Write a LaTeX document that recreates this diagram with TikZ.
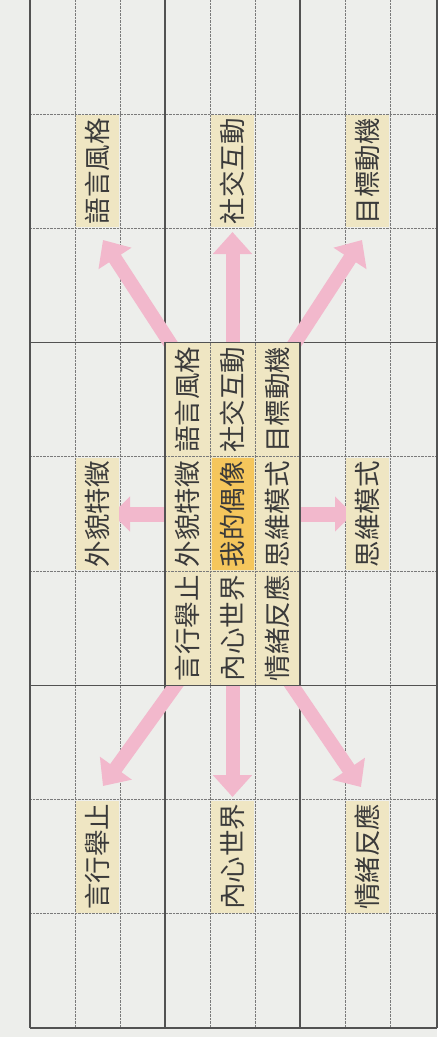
\documentclass[tikz,border=0pt]{standalone}
\usepackage{fontspec}
\newfontfamily\cjk{Noto Sans CJK TC}
\usetikzlibrary{arrows.meta}
\definecolor{paper}{HTML}{EDEEEB}
\definecolor{linedark}{HTML}{525252}
\definecolor{linelight}{HTML}{7A7A7A}
\definecolor{cream}{HTML}{EFE6C3}
\definecolor{gold}{HTML}{F5C65C}
\definecolor{pinkarr}{HTML}{F2B8CC}
\definecolor{ink}{HTML}{3A3A3A}
\pgfdeclarelayer{bg}
\pgfdeclarelayer{grid}
\pgfdeclarelayer{arr}
\pgfdeclarelayer{top}
\pgfsetlayers{bg,grid,arr,main,top}
\begin{document}
\begin{tikzpicture}[x=1pt,y=-1pt,
  boldline/.style={draw=linedark,line width=1.2pt},
  dotline/.style={draw=linelight,line width=0.8pt,dash pattern=on 0.9pt off 0.5pt},
  txt/.style={rotate=90,font=\cjk\fontsize{26.5}{26.5}\selectfont,text=ink,inner sep=0pt,minimum width=112pt,minimum height=43pt},
  outercell/.style={txt,fill=cream},
  innercell/.style={txt},
  hubcell/.style={txt,fill=gold,minimum width=112pt,minimum height=42pt},
  pinkarrow/.style={draw=pinkarr,line width=14pt,-{Triangle[width=38pt,length=22pt]}},
  sidearrow/.style={draw=pinkarr,line width=15pt,-{Triangle[width=34pt,length=18pt]}}]
\useasboundingbox (0,0) rectangle (437,1037);
\begin{pgfonlayer}{bg}
\fill[paper] (0,0) rectangle (437,1037);
\end{pgfonlayer}
\begin{pgfonlayer}{grid}
\foreach \i in {1,2,4,5,7,8} \draw[dotline] (30+45*\i,0) -- (30+45*\i,1028);
\foreach \j in {1,2,4,5,7,8} \draw[dotline] (30,114.222*\j) -- (437,114.222*\j);
\foreach \i in {0,3,6} \draw[boldline] (30+45*\i,0) -- (30+45*\i,1028);
\draw[boldline] (437,0) -- (437,1028);
\foreach \j in {3,6,9} \draw[boldline] (30,114.222*\j) -- (437,114.222*\j);
\end{pgfonlayer}
% centre block background
\fill[cream] (165,342.67) rectangle (300,685.33);
% centre block cells
\node[innercell] (cA) at (187.5,399.78) {語言風格};
\node[innercell] (cB) at (232.5,399.78) {社交互動};
\node[innercell] (cC) at (277.5,399.78) {目標動機};
\node[innercell] (cD) at (187.5,514) {外貌特徵};
\node[hubcell]   (hub) at (232.5,514) {我的偶像};
\node[innercell] (cE) at (277.5,514) {思維模式};
\node[innercell] (cF) at (187.5,628.22) {言行舉止};
\node[innercell] (cG) at (232.5,628.22) {內心世界};
\node[innercell] (cH) at (277.5,628.22) {情緒反應};
% outer cells
\node[outercell] (oA) at (97.5,171.33) {語言風格};
\node[outercell] (oB) at (232.5,171.33) {社交互動};
\node[outercell] (oC) at (367.5,171.33) {目標動機};
\node[outercell] (oD) at (97.5,514) {外貌特徵};
\node[outercell] (oE) at (367.5,514) {思維模式};
\node[outercell] (oF) at (97.5,856.67) {言行舉止};
\node[outercell] (oG) at (232.5,856.67) {內心世界};
\node[outercell] (oH) at (367.5,856.67) {情緒反應};
% arrow ends
\coordinate (sA) at (203.5,394.5); \coordinate (tA) at (103,240);
\coordinate (sB) at (232.5,400);   \coordinate (tB) at (232.5,232);
\coordinate (sC) at (261.5,394.5); \coordinate (tC) at (362,240);
\coordinate (sD) at (200,514);     \coordinate (tD) at (112,514);
\coordinate (sE) at (265,514);     \coordinate (tE) at (353,514);
\coordinate (sF) at (211,636);     \coordinate (tF) at (103,786);
\coordinate (sG) at (232.5,630);   \coordinate (tG) at (232.5,797);
\coordinate (sH) at (259,637);     \coordinate (tH) at (361,787);
\begin{pgfonlayer}{arr}
\draw[pinkarrow] (sA) -- (tA);
\draw[pinkarrow] (sB) -- (tB);
\draw[pinkarrow] (sC) -- (tC);
\draw[sidearrow] (sD) -- (tD);
\draw[sidearrow] (sE) -- (tE);
\draw[pinkarrow] (sF) -- (tF);
\draw[pinkarrow] (sG) -- (tG);
\draw[pinkarrow] (sH) -- (tH);
\end{pgfonlayer}
\begin{pgfonlayer}{top}
\draw[dotline] (210,342.67) -- (210,685.33);
\draw[dotline] (255,342.67) -- (255,685.33);
\draw[dotline] (165,456.89) -- (300,456.89);
\draw[dotline] (165,571.11) -- (300,571.11);
\draw[boldline] (165,342.67) rectangle (300,685.33);
\end{pgfonlayer}
\end{tikzpicture}
\end{document}
